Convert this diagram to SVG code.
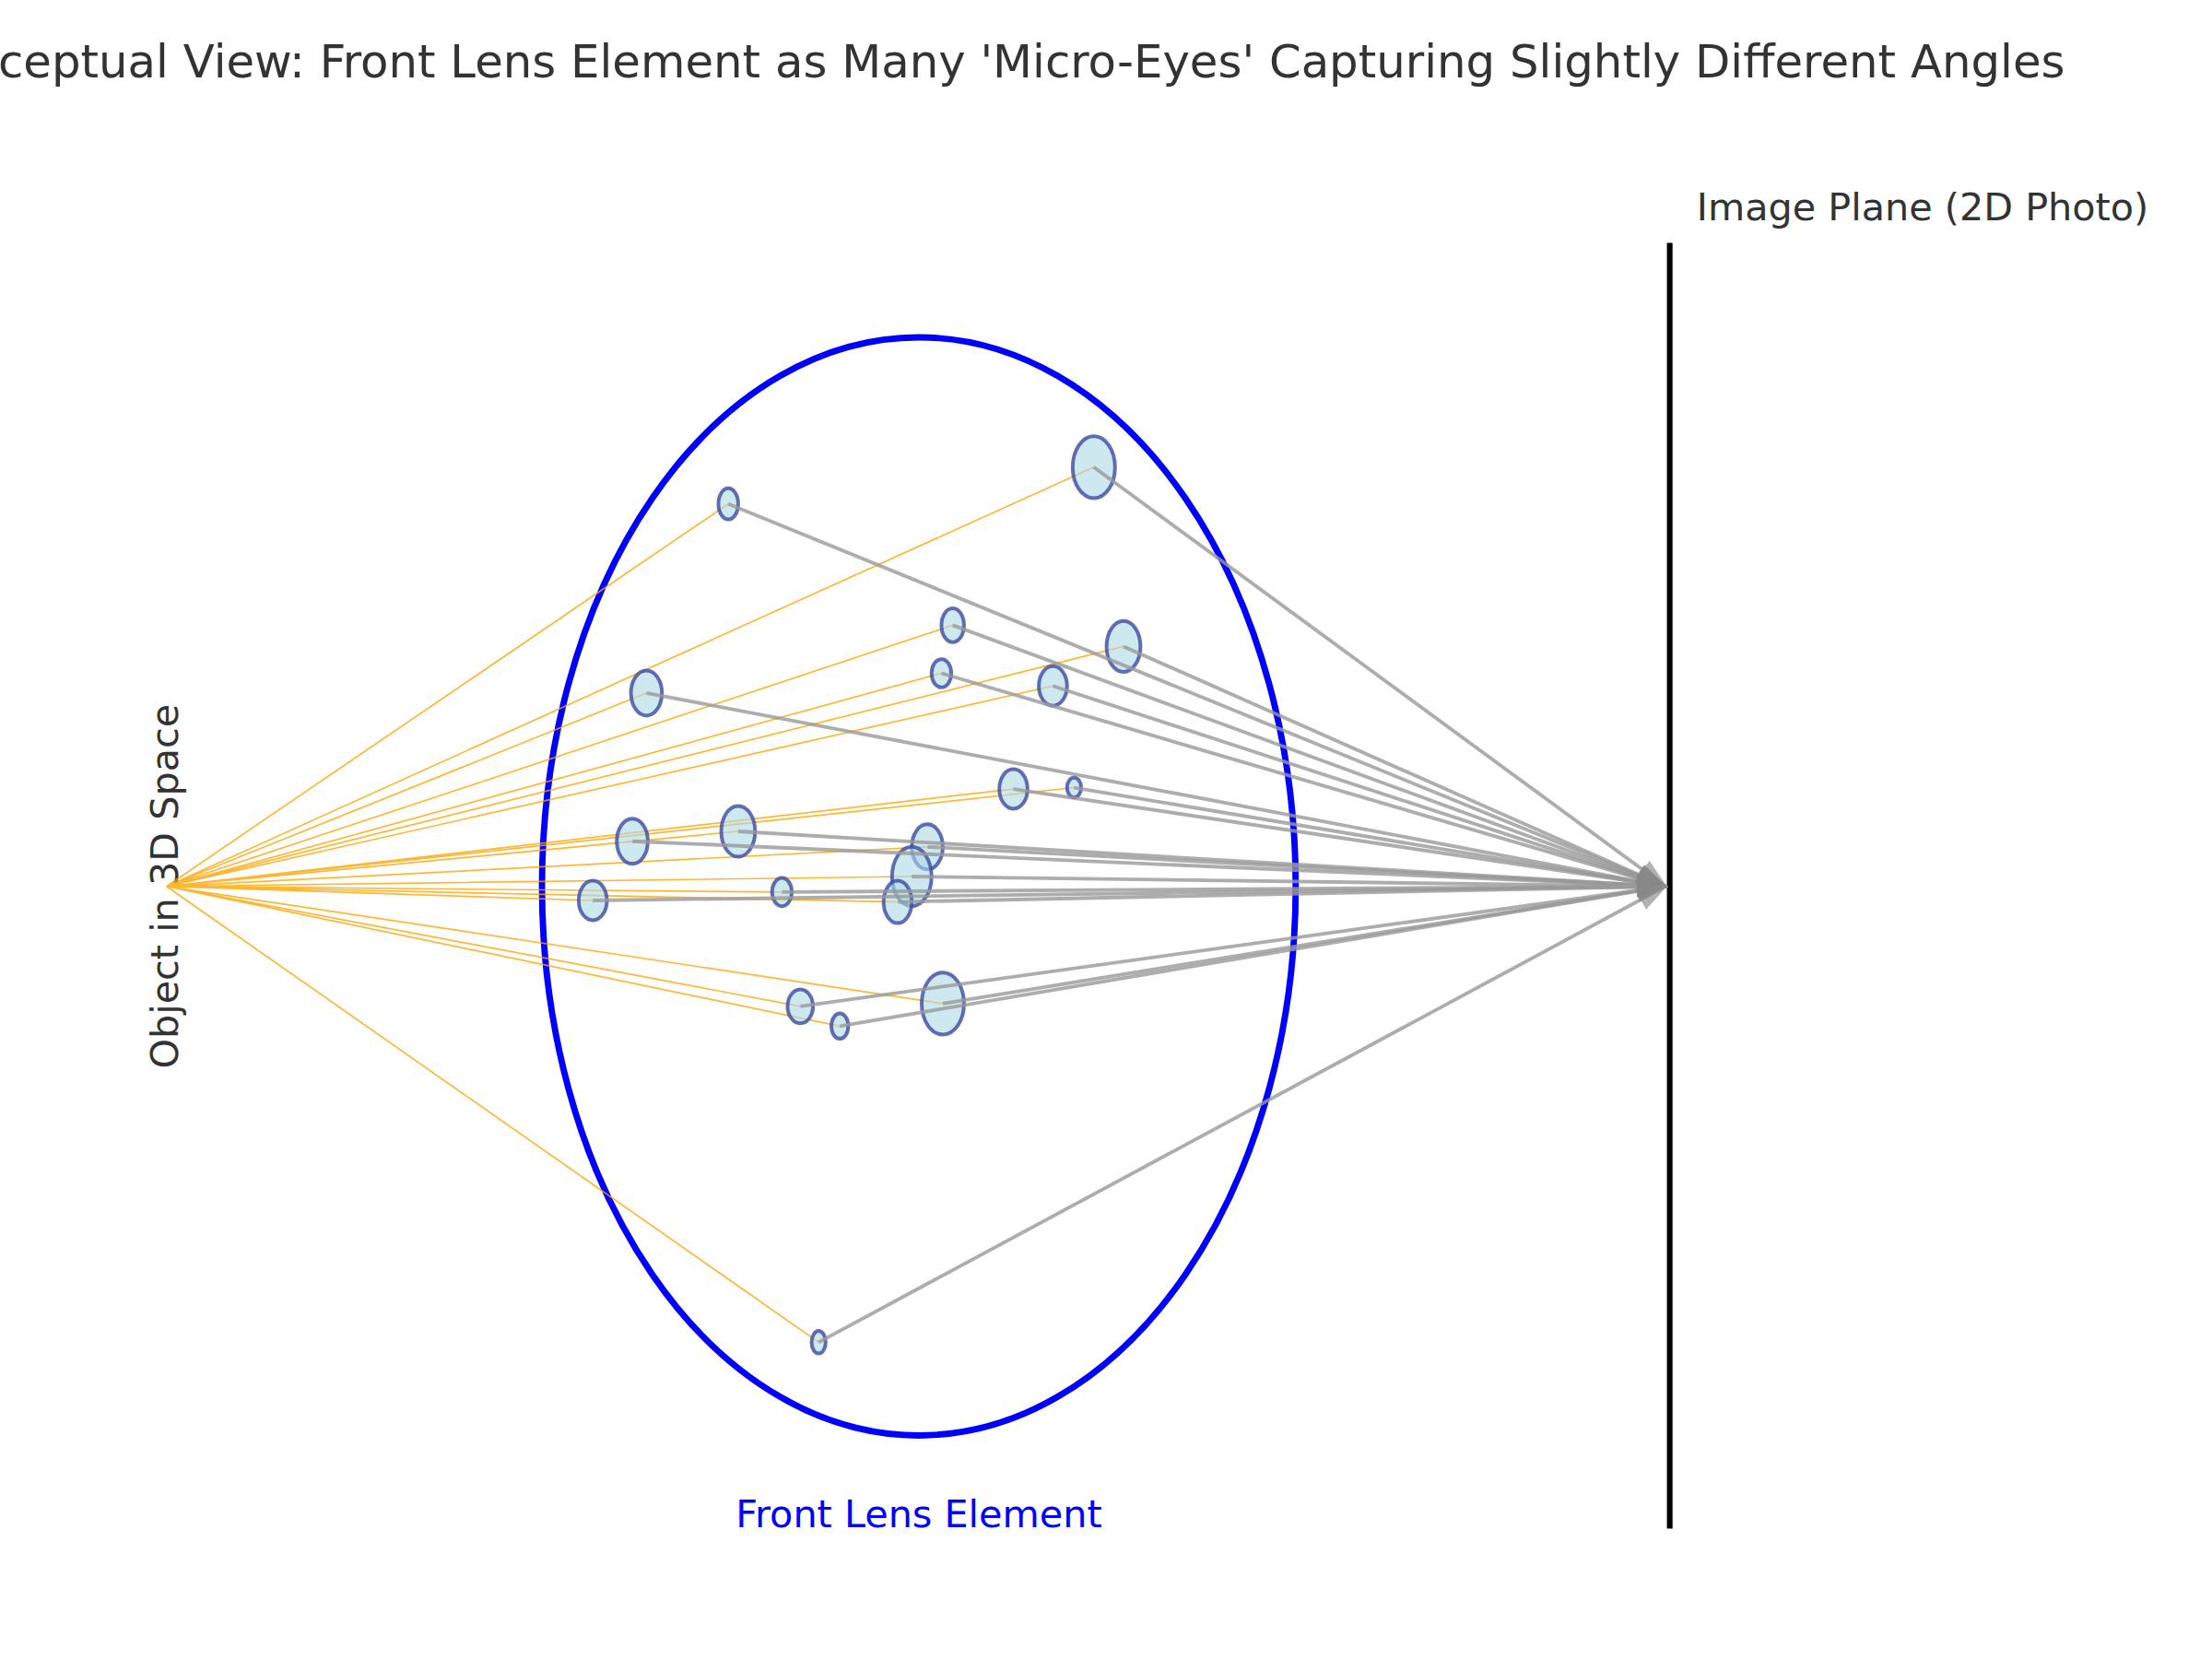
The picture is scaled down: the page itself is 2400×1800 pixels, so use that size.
<svg xmlns="http://www.w3.org/2000/svg" width="2400" height="1800" viewBox="0 0 2400 1800">
<style>
text{font-family:"DejaVu Sans","Liberation Sans",sans-serif;fill:#333}
.o{stroke:orange;stroke-width:1.1;opacity:0.8;fill:none}
.g{stroke:#999;stroke-width:2.5;opacity:0.8;fill:none;marker-end:url(#ah)}
.eye ellipse{fill:#add8e6;fill-opacity:0.6;stroke:#3b4aa3;stroke-opacity:0.8;stroke-width:2.6}
</style>
<defs>
<marker id="ah" markerUnits="userSpaceOnUse" markerWidth="24" markerHeight="24" refX="20" refY="8" orient="auto" viewBox="0 0 24 16">
<path d="M0,0 L22,8 L0,16 Z" fill="#888" opacity="0.8"/>
</marker>
</defs>
<rect width="2400" height="1800" fill="#fff"/>
<g transform="scale(1.5314)">
<text x="1463" y="55" font-size="32.5" text-anchor="end">Conceptual View: Front Lens Element as Many 'Micro-Eyes' Capturing Slightly Different Angles</text>
<g id="image-plane"><line x1="1183" y1="172" x2="1183" y2="1083" stroke="#000" stroke-width="4"/>
<text x="1202" y="156" font-size="27">Image Plane (2D Photo)</text></g>
<g id="lens"><ellipse cx="651" cy="628" rx="267" ry="389" fill="none" stroke="#0000ff" stroke-width="4.5"/>
<text x="651" y="1082" font-size="27" text-anchor="middle" style="fill:#0000ff">Front Lens Element</text></g>
<g id="object"><text transform="translate(126,628) rotate(-90)" font-size="27" text-anchor="middle">Object in 3D Space</text></g>
<g id="rays-in">
<path class="o" d="M118,628L516,357M118,628L775,331M118,628L675,443M118,628L796,458M118,628L458,491M118,628L667,477M118,628L746,486M118,628L718,559M118,628L761,558M118,628L448,596M118,628L523,589M118,628L657,600M118,628L646,621M118,628L420,638M118,628L554,632M118,628L636,639M118,628L567,713M118,628L595,727M118,628L668,711M118,628L580,951"/>
</g>
<g id="eyes" class="eye">
<g id="eye1"><ellipse cx="516" cy="357" rx="7" ry="11"/></g>
<g id="eye2"><ellipse cx="775" cy="331" rx="15" ry="22"/></g>
<g id="eye3"><ellipse cx="675" cy="443" rx="8" ry="12"/></g>
<g id="eye4"><ellipse cx="796" cy="458" rx="12" ry="18"/></g>
<g id="eye5"><ellipse cx="458" cy="491" rx="11" ry="16"/></g>
<g id="eye6"><ellipse cx="667" cy="477" rx="7" ry="10"/></g>
<g id="eye7"><ellipse cx="746" cy="486" rx="10" ry="14"/></g>
<g id="eye8"><ellipse cx="718" cy="559" rx="10" ry="14"/></g>
<g id="eye9"><ellipse cx="761" cy="558" rx="5" ry="7"/></g>
<g id="eye10"><ellipse cx="448" cy="596" rx="11" ry="16"/></g>
<g id="eye11"><ellipse cx="523" cy="589" rx="12" ry="18"/></g>
<g id="eye12"><ellipse cx="657" cy="600" rx="11" ry="16"/></g>
<g id="eye13"><ellipse cx="646" cy="621" rx="14" ry="21"/></g>
<g id="eye14"><ellipse cx="420" cy="638" rx="10" ry="14"/></g>
<g id="eye15"><ellipse cx="554" cy="632" rx="7" ry="10"/></g>
<g id="eye16"><ellipse cx="636" cy="639" rx="10" ry="15"/></g>
<g id="eye17"><ellipse cx="567" cy="713" rx="9" ry="12"/></g>
<g id="eye18"><ellipse cx="595" cy="727" rx="6" ry="9"/></g>
<g id="eye19"><ellipse cx="668" cy="711" rx="15" ry="22"/></g>
<g id="eye20"><ellipse cx="580" cy="951" rx="5" ry="8"/></g>
</g>
<g id="rays-out">
<line class="g" x1="516" y1="357" x2="1180" y2="628"/>
<line class="g" x1="775" y1="331" x2="1180" y2="628"/>
<line class="g" x1="675" y1="443" x2="1180" y2="628"/>
<line class="g" x1="796" y1="458" x2="1180" y2="628"/>
<line class="g" x1="458" y1="491" x2="1180" y2="628"/>
<line class="g" x1="667" y1="477" x2="1180" y2="628"/>
<line class="g" x1="746" y1="486" x2="1180" y2="628"/>
<line class="g" x1="718" y1="559" x2="1180" y2="628"/>
<line class="g" x1="761" y1="558" x2="1180" y2="628"/>
<line class="g" x1="448" y1="596" x2="1180" y2="628"/>
<line class="g" x1="523" y1="589" x2="1180" y2="628"/>
<line class="g" x1="657" y1="600" x2="1180" y2="628"/>
<line class="g" x1="646" y1="621" x2="1180" y2="628"/>
<line class="g" x1="420" y1="638" x2="1180" y2="628"/>
<line class="g" x1="554" y1="632" x2="1180" y2="628"/>
<line class="g" x1="636" y1="639" x2="1180" y2="628"/>
<line class="g" x1="567" y1="713" x2="1180" y2="628"/>
<line class="g" x1="595" y1="727" x2="1180" y2="628"/>
<line class="g" x1="668" y1="711" x2="1180" y2="628"/>
<line class="g" x1="580" y1="951" x2="1180" y2="628"/>
</g>
</g>
</svg>
